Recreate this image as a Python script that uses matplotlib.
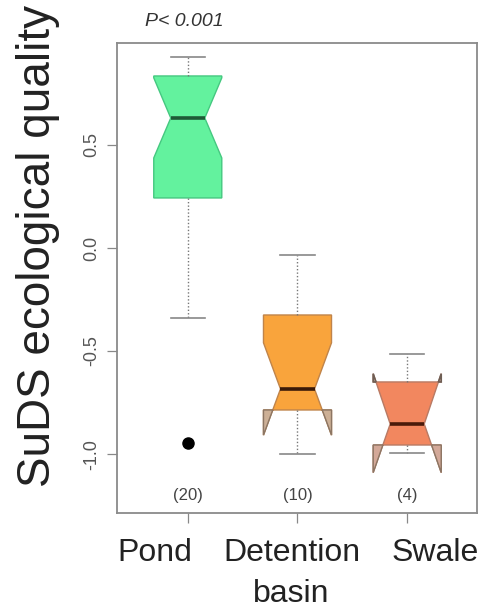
import matplotlib
matplotlib.use("Agg")
import matplotlib.pyplot as plt
from matplotlib.patches import Polygon
from matplotlib.transforms import ScaledTranslation

plt.rcParams['font.family'] = ['Liberation Sans', 'DejaVu Sans']

categories = ["Pond", "Detention\nbasin", "Swale"]
counts = [20, 10, 4]
whislo = [-0.34, -1.00, -0.995]
q1 = [0.243, -0.786, -0.956]
med = [0.631, -0.684, -0.854]
q3 = [0.835, -0.325, -0.65]
whishi = [0.927, -0.034, -0.515]
cilo = [0.437, -0.908, -1.09]
cihi = [0.826, -0.46, -0.61]
outliers = [[-0.947], [], []]
fills = ["#63F29E", "#F9A43C", "#F2875F"]
edges = ["#45C880", "#C0844A", "#B87A64"]
lobe_fills = ["#B8D8C4", "#CDB096", "#D3A898"]
medcols = ["#1E5A36", "#3A1A08", "#4A1A0A"]

positions = [1, 2, 3]
width = 0.62

stats = []
for i in range(3):
    stats.append(dict(label=categories[i], whislo=whislo[i], q1=q1[i], med=med[i],
                      q3=q3[i], whishi=whishi[i], cilo=cilo[i], cihi=cihi[i],
                      fliers=outliers[i]))

fig = plt.figure(figsize=(4.85, 6.09), dpi=100)
ax = fig.add_axes([117/485, 1-513/609, (477-117)/485, (513-43)/609])

bp = ax.bxp(stats, positions=positions, widths=width, shownotches=True, patch_artist=True,
            showfliers=True,
            whiskerprops=dict(color="#777777", linestyle=(0, (1, 1.5)), linewidth=1.0),
            capprops=dict(color="#888888", linewidth=1.2),
            flierprops=dict(marker='o', markerfacecolor='black', markeredgecolor='black',
                            markersize=8))
for i, b in enumerate(bp['boxes']):
    b.set_facecolor(fills[i])
    b.set_edgecolor(edges[i])
    b.set_linewidth(1.0)
for i, m in enumerate(bp['medians']):
    m.set_color(medcols[i])
    m.set_linewidth(2.6)

# notch parts that fold outside the hinges (drawn greyish as in the original)
for i, p in enumerate(positions):
    L, R = p - width / 2, p + width / 2
    cL, cR = p - width / 4, p + width / 4
    if cilo[i] < q1[i]:
        t = (q1[i] - cilo[i]) / (med[i] - cilo[i])
        for edge, cap in ((R, cR), (L, cL)):
            xm = edge + t * (cap - edge)
            ax.add_patch(Polygon([(edge, q1[i]), (edge, cilo[i]), (xm, q1[i])], closed=True,
                                 facecolor=lobe_fills[i], edgecolor="#8C7664", linewidth=1.0,
                                 zorder=2.5))
    if cihi[i] > q3[i]:
        t = (cihi[i] - q3[i]) / (cihi[i] - med[i])
        for edge, cap in ((R, cR), (L, cL)):
            xm = edge + t * (cap - edge)
            ax.add_patch(Polygon([(edge, q3[i]), (edge, cihi[i]), (xm, q3[i])], closed=True,
                                 facecolor=lobe_fills[i], edgecolor="#6E5E54", linewidth=1.2,
                                 zorder=2.5))

for i, n in enumerate(counts):
    ax.text(positions[i], -1.2, f"({n})", ha='center', va='center', fontsize=12, color="#444444")

ax.set_xlim(0.355, 3.636)
ax.set_ylim(-1.286, 0.995)
ax.set_yticks([-1.0, -0.5, 0.0, 0.5])
ax.set_yticklabels(["-1.0", "-0.5", "0.0", "0.5"], rotation=90, va='center')
ax.tick_params(axis='y', length=7, width=0.9, color="#888888", labelcolor="#555555",
               labelsize=13, pad=5)
ax.set_xticks(positions)
ax.set_xticklabels(categories, fontsize=23, color="#222222", linespacing=1.5)
ax.tick_params(axis='x', length=7, width=0.9, color="#888888", pad=11)
offsets = [-33, -6, 28]
for lab, dx in zip(ax.get_xticklabels(), offsets):
    lab.set_transform(lab.get_transform() + ScaledTranslation(dx/100, 0, fig.dpi_scale_trans))

for s in ax.spines.values():
    s.set_color("#8a8a8a")
    s.set_linewidth(1.3)

fig.text(38/485, 1-246/609, "SuDS ecological quality", rotation=90, ha='center', va='center',
         fontsize=33, color="#222222")
fig.text(184/485, 1-21/609, "P< 0.001", style='italic', ha='center', va='center',
         fontsize=14, color="#333333")

fig.savefig("out.png", dpi=100, facecolor='white')
